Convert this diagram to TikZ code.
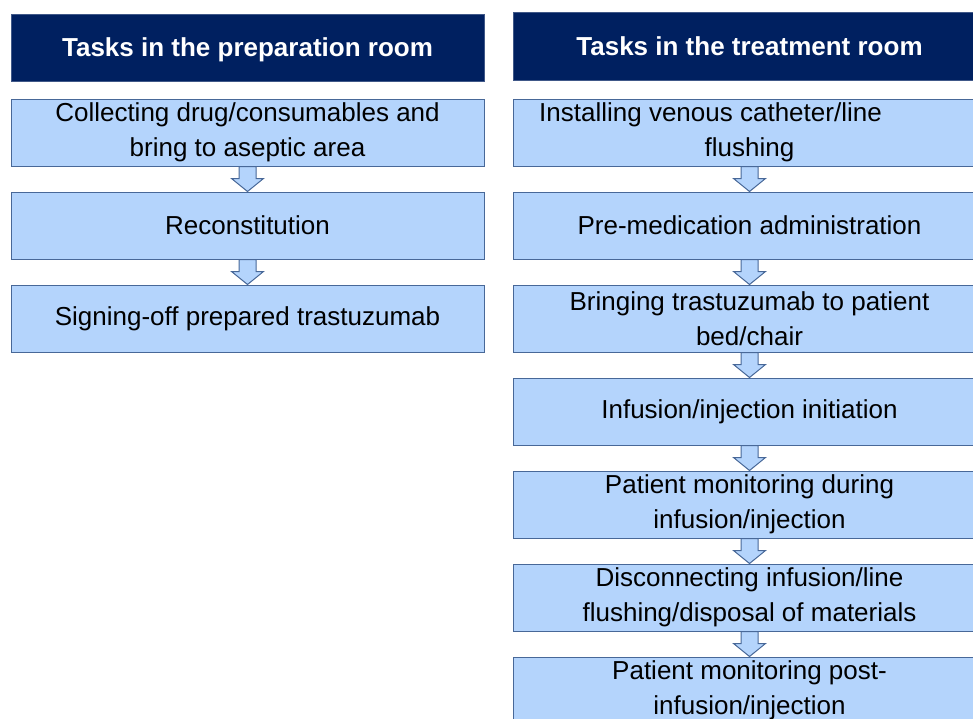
\documentclass[tikz,border=0pt]{standalone}
\usepackage{fontspec}
\setmainfont{Liberation Sans}
\usetikzlibrary{positioning,calc}

\definecolor{headblue}{RGB}{0,32,96}
\definecolor{taskfill}{RGB}{180,212,252}
\definecolor{taskline}{RGB}{72,104,152}

\begin{document}
\begin{tikzpicture}[
    x=1pt,
    y=1pt,
    node distance=93pt,
    font=\fontsize{26}{35}\selectfont,
    header/.style={
		rectangle,
		draw=headblue!75!white,
		fill=headblue,
		text=white,
		font=\bfseries\fontsize{26}{35}\selectfont,
		text centered,
		text height=18.5pt,
		text depth=0pt,
		minimum width=473pt,
		minimum height=67pt
	},
	task/.style={
		rectangle,
		draw=taskline,
		line width=1pt,
		fill=taskfill,
		align=center,
		inner sep=0pt,
		minimum width=473pt,
		minimum height=67pt
	},
	flow/.style={
		draw=taskline,
		line width=1pt,
		fill=taskfill,
		to path={
		  ($(\tikztostart.south)+(-8.5,0)$)
		  -- ($(\tikztotarget.north)+(-8.5,13)$)
		  -- ($(\tikztotarget.north)+(-16,13)$)
		  -- (\tikztotarget.north)
		  -- ($(\tikztotarget.north)+(16,13)$)
		  -- ($(\tikztotarget.north)+(8.5,13)$)
		  -- ($(\tikztostart.south)+(8.5,0)$)
		  -- cycle}
	}
  ]

 \useasboundingbox (0,0) rectangle (973,-718);

% // preparation room
 \node [header] (lhead) at (247.5,-47.5) {Tasks in the preparation room};
 \node [task, below of=lhead, yshift=8pt] (lcollect)
 {Collecting drug/consumables and\\bring to aseptic area};
 \node [task, below of=lcollect] (lrecon) {Reconstitution};
 \node [task, below of=lrecon] (lsign) {Signing-off prepared trastuzumab};

 \path [flow] (lcollect) to (lrecon);
 \path [flow] (lrecon) to (lsign);

% // treatment room
 \node [header, minimum height=68pt] (rhead) at (749.5,-46) {Tasks in the treatment room};
 \node [task, below of=rhead, yshift=6.5pt] (rinstall)
 {Installing venous catheter/line\hspace*{78pt}\\flushing};
 \node [task, below of=rinstall] (rpremed) {Pre-medication administration};
 \node [task, below of=rpremed] (rbring)
 {Bringing trastuzumab to patient\\bed/chair};
 \node [task, below of=rbring] (rinit) {Infusion/injection initiation};
 \node [task, below of=rinit] (rmondur)
 {Patient monitoring during\\infusion/injection};
 \node [task, below of=rmondur] (rdisc)
 {Disconnecting infusion/line\\flushing/disposal of materials};
 \node [task, below of=rdisc] (rmonpost)
 {Patient monitoring post-\\infusion/injection};

 \path [flow] (rinstall) to (rpremed);
 \path [flow] (rpremed) to (rbring);
 \path [flow] (rbring) to (rinit);
 \path [flow] (rinit) to (rmondur);
 \path [flow] (rmondur) to (rdisc);
 \path [flow] (rdisc) to (rmonpost);

\end{tikzpicture}
\end{document}
